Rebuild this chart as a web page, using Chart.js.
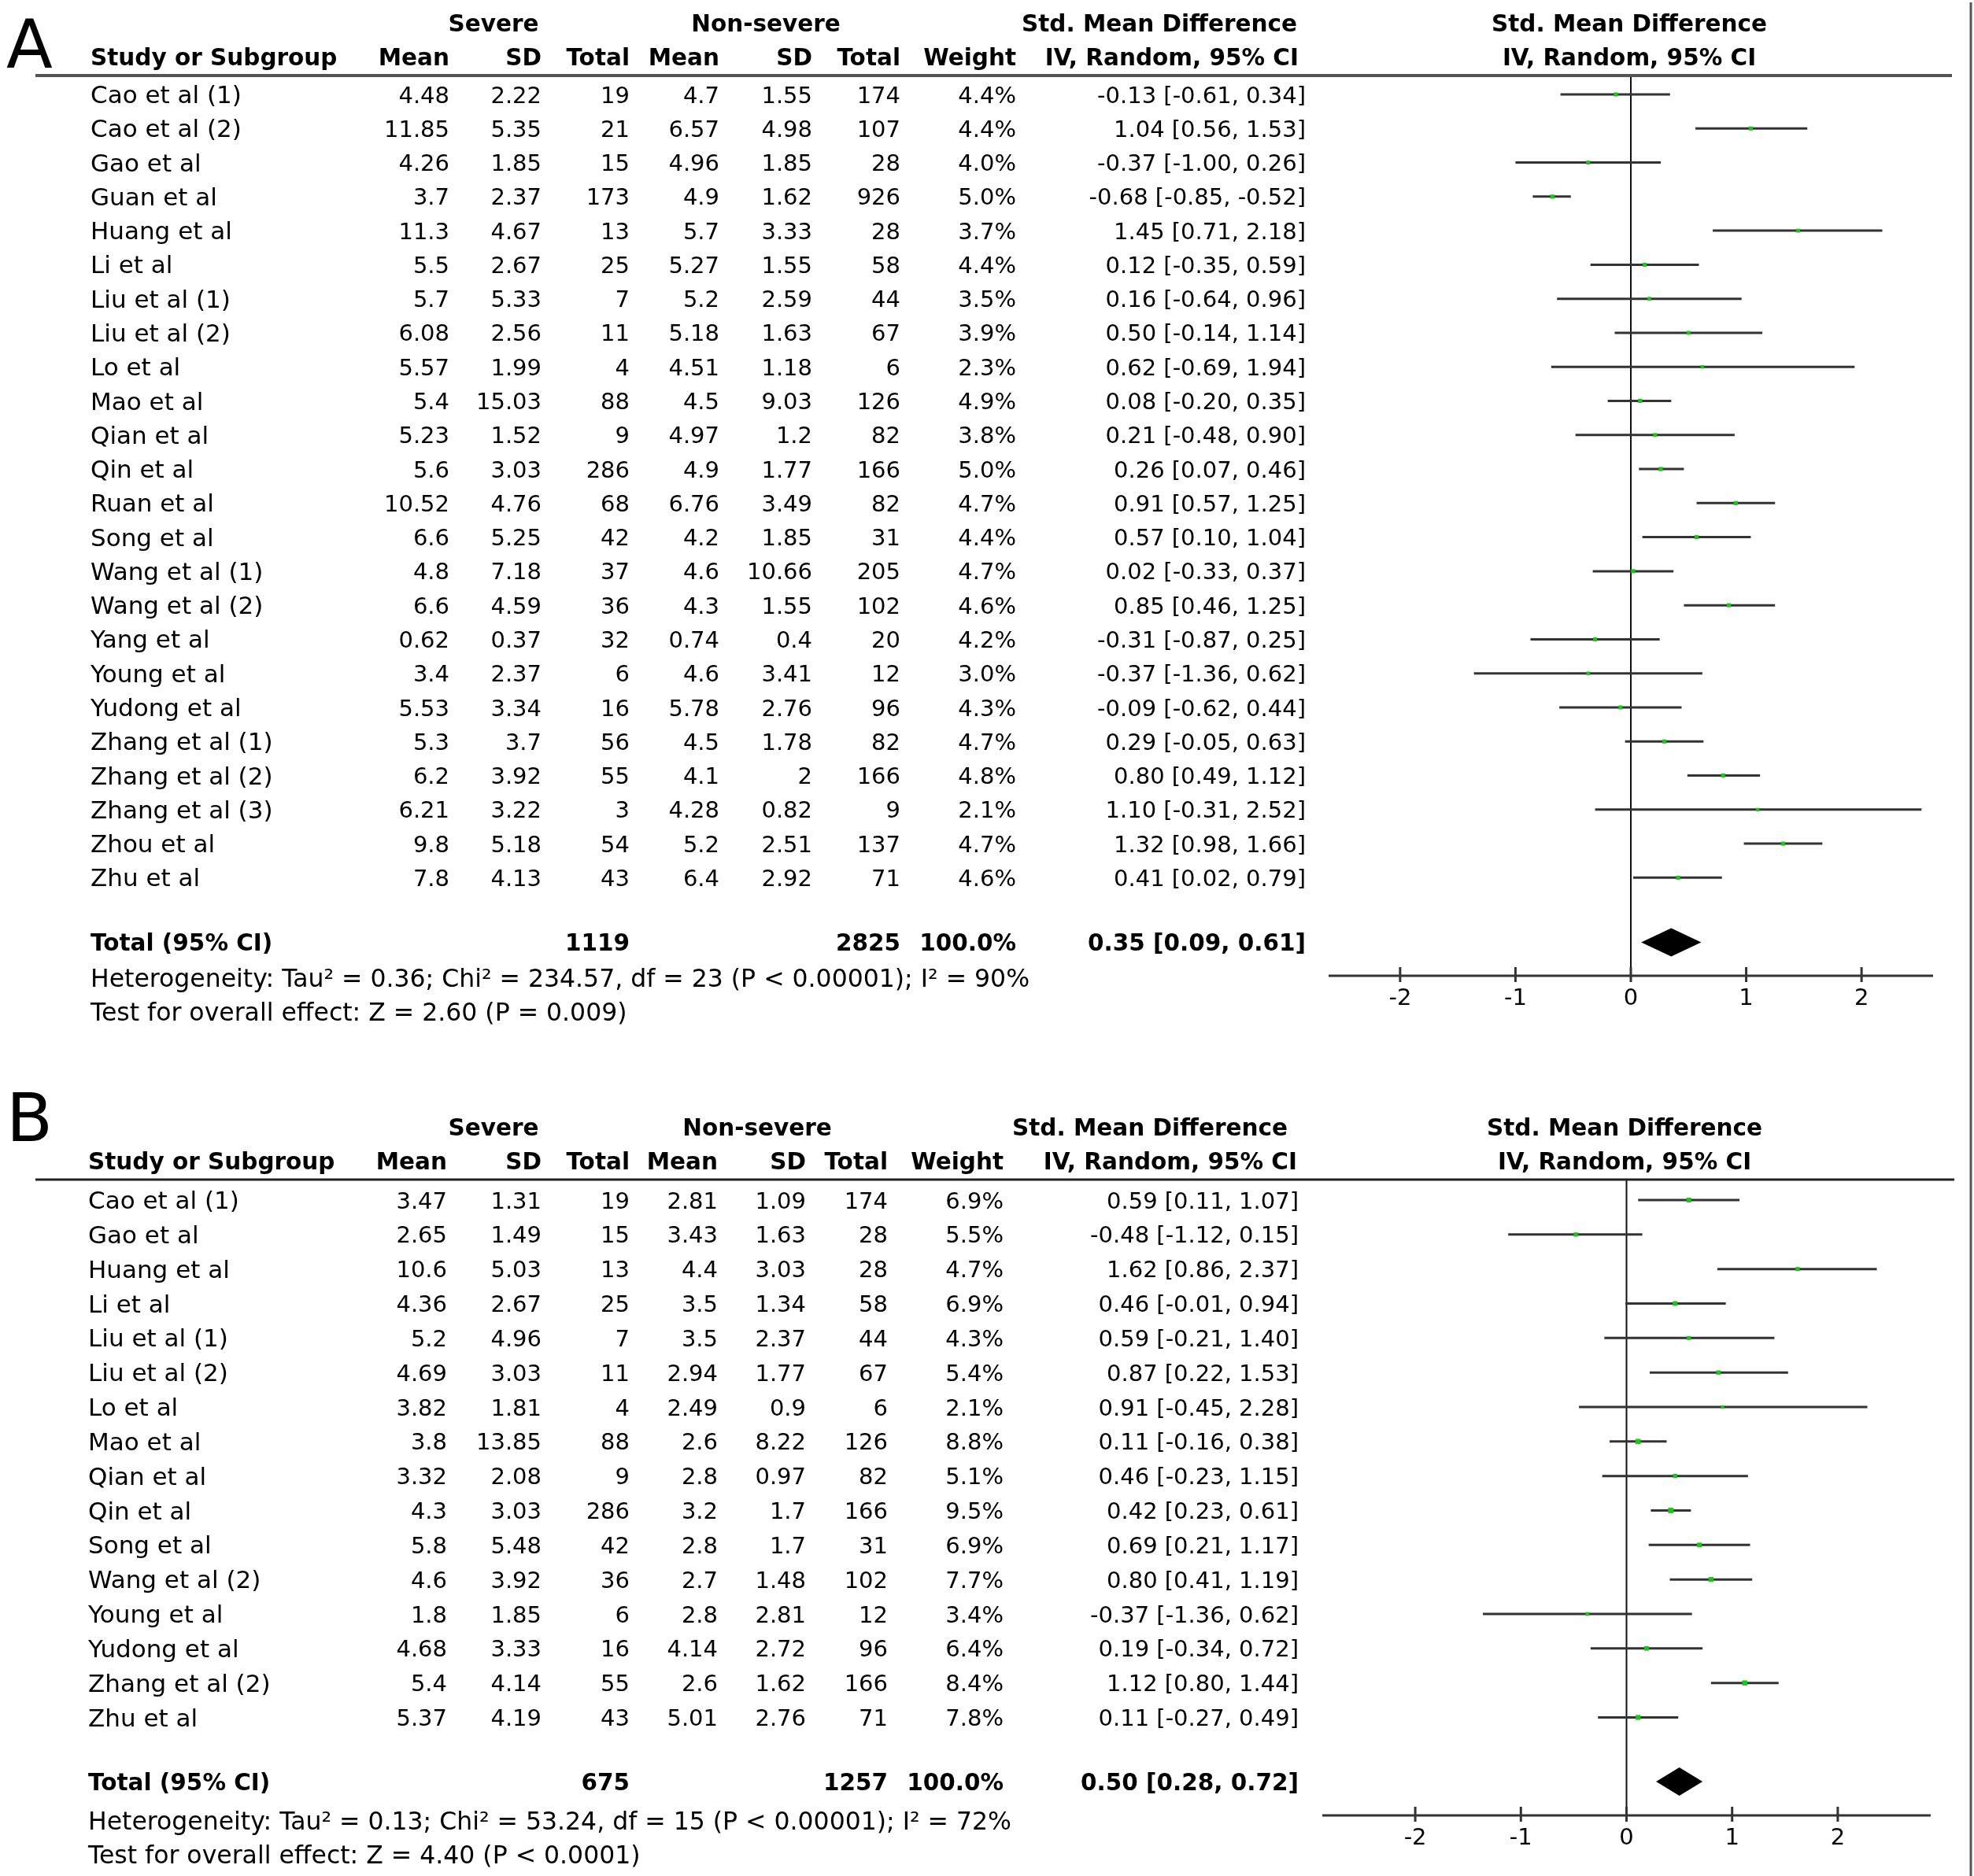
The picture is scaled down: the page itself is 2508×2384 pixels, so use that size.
<!DOCTYPE html>
<html>
<head>
<meta charset="utf-8">
<script src="https://cdn.jsdelivr.net/npm/chart.js@4.4.0/dist/chart.umd.min.js"></script>
<style>
  html, body { margin: 0; padding: 0; background: #fff; }
  canvas { position: absolute; left: 0; display: block; }
  #chartA { top: 0; }
  #chartB { top: 1340px; }
</style>
</head>
<body>
<canvas id="chartA" width="2508" height="1340"></canvas>
<canvas id="chartB" width="2508" height="1044"></canvas>
<script>
// ---- panel A data ----
const aStudy = ['Cao et al (1)', 'Cao et al (2)', 'Gao et al', 'Guan et al', 'Huang et al', 'Li et al',
  'Liu et al (1)', 'Liu et al (2)', 'Lo et al', 'Mao et al', 'Qian et al', 'Qin et al', 'Ruan et al',
  'Song et al', 'Wang et al (1)', 'Wang et al (2)', 'Yang et al', 'Young et al', 'Yudong et al',
  'Zhang et al (1)', 'Zhang et al (2)', 'Zhang et al (3)', 'Zhou et al', 'Zhu et al'];
const aSevMean = [4.48, 11.85, 4.26, 3.7, 11.3, 5.5, 5.7, 6.08, 5.57, 5.4, 5.23, 5.6, 10.52, 6.6, 4.8, 6.6, 0.62, 3.4, 5.53, 5.3, 6.2, 6.21, 9.8, 7.8];
const aSevSD = [2.22, 5.35, 1.85, 2.37, 4.67, 2.67, 5.33, 2.56, 1.99, 15.03, 1.52, 3.03, 4.76, 5.25, 7.18, 4.59, 0.37, 2.37, 3.34, 3.7, 3.92, 3.22, 5.18, 4.13];
const aSevN = [19, 21, 15, 173, 13, 25, 7, 11, 4, 88, 9, 286, 68, 42, 37, 36, 32, 6, 16, 56, 55, 3, 54, 43];
const aNonMean = [4.7, 6.57, 4.96, 4.9, 5.7, 5.27, 5.2, 5.18, 4.51, 4.5, 4.97, 4.9, 6.76, 4.2, 4.6, 4.3, 0.74, 4.6, 5.78, 4.5, 4.1, 4.28, 5.2, 6.4];
const aNonSD = [1.55, 4.98, 1.85, 1.62, 3.33, 1.55, 2.59, 1.63, 1.18, 9.03, 1.2, 1.77, 3.49, 1.85, 10.66, 1.55, 0.4, 3.41, 2.76, 1.78, 2, 0.82, 2.51, 2.92];
const aNonN = [174, 107, 28, 926, 28, 58, 44, 67, 6, 126, 82, 166, 82, 31, 205, 102, 20, 12, 96, 82, 166, 9, 137, 71];
const aWeight = [4.4, 4.4, 4.0, 5.0, 3.7, 4.4, 3.5, 3.9, 2.3, 4.9, 3.8, 5.0, 4.7, 4.4, 4.7, 4.6, 4.2, 3.0, 4.3, 4.7, 4.8, 2.1, 4.7, 4.6];
const aSmd = [-0.13, 1.04, -0.37, -0.68, 1.45, 0.12, 0.16, 0.50, 0.62, 0.08, 0.21, 0.26, 0.91, 0.57, 0.02, 0.85, -0.31, -0.37, -0.09, 0.29, 0.80, 1.10, 1.32, 0.41];
const aLow = [-0.61, 0.56, -1.00, -0.85, 0.71, -0.35, -0.64, -0.14, -0.69, -0.20, -0.48, 0.07, 0.57, 0.10, -0.33, 0.46, -0.87, -1.36, -0.62, -0.05, 0.49, -0.31, 0.98, 0.02];
const aHigh = [0.34, 1.53, 0.26, -0.52, 2.18, 0.59, 0.96, 1.14, 1.94, 0.35, 0.90, 0.46, 1.25, 1.04, 0.37, 1.25, 0.25, 0.62, 0.44, 0.63, 1.12, 2.52, 1.66, 0.79];
const aTotal = [1119, 2825, 100.0, 0.35, 0.09, 0.61]; // sevN, nonN, weight, smd, low, high
const aHet = 'Heterogeneity: Tau\u00b2 = 0.36; Chi\u00b2 = 234.57, df = 23 (P < 0.00001); I\u00b2 = 90%';
const aTest = 'Test for overall effect: Z = 2.60 (P = 0.009)';

// ---- panel B data ----
const bStudy = ['Cao et al (1)', 'Gao et al', 'Huang et al', 'Li et al', 'Liu et al (1)', 'Liu et al (2)',
  'Lo et al', 'Mao et al', 'Qian et al', 'Qin et al', 'Song et al', 'Wang et al (2)', 'Young et al',
  'Yudong et al', 'Zhang et al (2)', 'Zhu et al'];
const bSevMean = [3.47, 2.65, 10.6, 4.36, 5.2, 4.69, 3.82, 3.8, 3.32, 4.3, 5.8, 4.6, 1.8, 4.68, 5.4, 5.37];
const bSevSD = [1.31, 1.49, 5.03, 2.67, 4.96, 3.03, 1.81, 13.85, 2.08, 3.03, 5.48, 3.92, 1.85, 3.33, 4.14, 4.19];
const bSevN = [19, 15, 13, 25, 7, 11, 4, 88, 9, 286, 42, 36, 6, 16, 55, 43];
const bNonMean = [2.81, 3.43, 4.4, 3.5, 3.5, 2.94, 2.49, 2.6, 2.8, 3.2, 2.8, 2.7, 2.8, 4.14, 2.6, 5.01];
const bNonSD = [1.09, 1.63, 3.03, 1.34, 2.37, 1.77, 0.9, 8.22, 0.97, 1.7, 1.7, 1.48, 2.81, 2.72, 1.62, 2.76];
const bNonN = [174, 28, 28, 58, 44, 67, 6, 126, 82, 166, 31, 102, 12, 96, 166, 71];
const bWeight = [6.9, 5.5, 4.7, 6.9, 4.3, 5.4, 2.1, 8.8, 5.1, 9.5, 6.9, 7.7, 3.4, 6.4, 8.4, 7.8];
const bSmd = [0.59, -0.48, 1.62, 0.46, 0.59, 0.87, 0.91, 0.11, 0.46, 0.42, 0.69, 0.80, -0.37, 0.19, 1.12, 0.11];
const bLow = [0.11, -1.12, 0.86, -0.01, -0.21, 0.22, -0.45, -0.16, -0.23, 0.23, 0.21, 0.41, -1.36, -0.34, 0.80, -0.27];
const bHigh = [1.07, 0.15, 2.37, 0.94, 1.40, 1.53, 2.28, 0.38, 1.15, 0.61, 1.17, 1.19, 0.62, 0.72, 1.44, 0.49];
const bTotal = [675, 1257, 100.0, 0.50, 0.28, 0.72];
const bHet = 'Heterogeneity: Tau\u00b2 = 0.13; Chi\u00b2 = 53.24, df = 15 (P < 0.00001); I\u00b2 = 72%';
const bTest = 'Test for overall effect: Z = 4.40 (P < 0.0001)';

const axisTicks = [-2, -1, 0, 1, 2];

const FONT = '"DejaVu Sans", Verdana, sans-serif';
const numFont = '29px ' + FONT;
const nameFont = '31px ' + FONT;
const footFont = '31.5px ' + FONT;
const bold = 'bold 29.5px ' + FONT;
const TXT_DY = 3; // text sits a touch below the row line

function fmt2(v) { return v.toFixed(2); }
function ciText(s, l, h) { return fmt2(s) + ' [' + fmt2(l) + ', ' + fmt2(h) + ']'; }

function ciSegments(lo, hi) {
  const pts = [];
  lo.forEach((l, i) => {
    pts.push({ x: l, y: i }, { x: hi[i], y: i }, { x: null, y: null });
  });
  return pts;
}

// table text, axis, diamond etc. drawn with the chart's own scales
function forestPlugin(p, o) {
  return {
    id: 'forest',
    beforeDatasetsDraw(chart) {
      const ctx = chart.ctx, a = chart.chartArea;
      const x0 = chart.scales.x.getPixelForValue(0);
      ctx.save();
      ctx.strokeStyle = '#111';
      ctx.lineWidth = 2;
      ctx.beginPath();
      ctx.moveTo(x0, a.top);
      ctx.lineTo(x0, a.bottom);
      ctx.stroke();
      ctx.restore();
    },
    afterDraw(chart) {
      const ctx = chart.ctx, a = chart.chartArea;
      const xs = chart.scales.x, ys = chart.scales.y;
      const c = o.cols;
      const Y = v => ys.getPixelForValue(v) + TXT_DY;
      ctx.save();
      ctx.fillStyle = '#000';

      // panel letter
      ctx.font = '86px ' + FONT;
      ctx.textAlign = 'left';
      ctx.textBaseline = 'alphabetic';
      ctx.fillText(o.letter, 8, o.letterY);

      // header rule
      ctx.strokeStyle = o.ruleColor;
      ctx.lineWidth = o.ruleWidth;
      ctx.beginPath();
      ctx.moveTo(45, a.top);
      ctx.lineTo(o.ruleEnd, a.top);
      ctx.stroke();

      // right border
      ctx.strokeStyle = '#555';
      ctx.lineWidth = 3;
      ctx.beginPath();
      ctx.moveTo(2504, o.borderTop);
      ctx.lineTo(2504, chart.height);
      ctx.stroke();

      // x axis
      ctx.strokeStyle = '#333';
      ctx.lineWidth = 3;
      ctx.beginPath();
      ctx.moveTo(a.left, a.bottom);
      ctx.lineTo(a.right, a.bottom);
      axisTicks.forEach(t => {
        const px = xs.getPixelForValue(t);
        ctx.moveTo(px, a.bottom - 11);
        ctx.lineTo(px, a.bottom + 8);
      });
      ctx.stroke();
      ctx.font = numFont;
      ctx.textAlign = 'center';
      ctx.textBaseline = 'middle';
      axisTicks.forEach(t => {
        ctx.fillText(t < 0 ? '-' + Math.abs(t) : String(t), xs.getPixelForValue(t), a.bottom + 29);
      });

      // diamond
      const dy = ys.getPixelForValue(o.totalRow);
      ctx.fillStyle = '#000';
      ctx.beginPath();
      ctx.moveTo(xs.getPixelForValue(p.total[4]), dy);
      ctx.lineTo(xs.getPixelForValue(p.total[3]), dy - 18);
      ctx.lineTo(xs.getPixelForValue(p.total[5]), dy);
      ctx.lineTo(xs.getPixelForValue(p.total[3]), dy + 18);
      ctx.closePath();
      ctx.fill();

      const put = (txt, x, y, align, font) => {
        ctx.font = font;
        ctx.textAlign = align;
        ctx.fillText(txt, x, y);
      };

      ctx.textBaseline = 'middle';
      // headers
      const h1 = Y(o.head1), h2 = Y(o.head2);
      put('Severe', c.sevHead, h1, 'center', bold);
      put('Non-severe', c.nonHead, h1, 'center', bold);
      put('Std. Mean Difference', c.ciHead1, h1, 'right', bold);
      put('Std. Mean Difference', c.plotHead, h1, 'center', bold);
      put('Study or Subgroup', c.name, h2, 'left', bold);
      put('Mean', c.sevMean, h2, 'right', bold);
      put('SD', c.sevSD, h2, 'right', bold);
      put('Total', c.sevN, h2, 'right', bold);
      put('Mean', c.nonMean, h2, 'right', bold);
      put('SD', c.nonSD, h2, 'right', bold);
      put('Total', c.nonN, h2, 'right', bold);
      put('Weight', c.weight, h2, 'right', bold);
      put('IV, Random, 95% CI', c.ciHead2, h2, 'right', bold);
      put('IV, Random, 95% CI', c.plotHead, h2, 'center', bold);

      // study rows
      p.study.forEach((s, i) => {
        const y = Y(i);
        put(s, c.name, y, 'left', nameFont);
        put(String(p.sevMean[i]), c.sevMean, y, 'right', numFont);
        put(String(p.sevSD[i]), c.sevSD, y, 'right', numFont);
        put(String(p.sevN[i]), c.sevN, y, 'right', numFont);
        put(String(p.nonMean[i]), c.nonMean, y, 'right', numFont);
        put(String(p.nonSD[i]), c.nonSD, y, 'right', numFont);
        put(String(p.nonN[i]), c.nonN, y, 'right', numFont);
        put(p.weight[i].toFixed(1) + '%', c.weight, y, 'right', numFont);
        put(ciText(p.smd[i], p.low[i], p.high[i]), c.ci, y, 'right', numFont);
      });

      // total and footer
      const t = p.total, ty = Y(o.totalRow);
      put('Total (95% CI)', c.name, ty, 'left', bold);
      put(String(t[0]), c.sevN, ty, 'right', bold);
      put(String(t[1]), c.nonN, ty, 'right', bold);
      put(t[2].toFixed(1) + '%', c.weight, ty, 'right', bold);
      put(ciText(t[3], t[4], t[5]), c.ci, ty, 'right', bold);
      put(p.het, c.name, Y(o.hetRow), 'left', footFont);
      put(p.test, c.name, Y(o.testRow), 'left', footFont);
      ctx.restore();
    }
  };
}

function makeForest(id, p, o) {
  return new Chart(document.getElementById(id), {
    type: 'scatter',
    data: {
      datasets: [
        {
          data: p.smd.map((v, i) => ({ x: v, y: i })),
          pointStyle: 'rect',
          pointRadius: p.weight.map(w => 2.5 + w * 0.25),
          backgroundColor: '#1fc41f',
          borderWidth: 0
        },
        {
          data: ciSegments(p.low, p.high),
          showLine: true,
          spanGaps: false,
          borderColor: '#333',
          borderWidth: 3,
          pointRadius: 0
        }
      ]
    },
    options: {
      responsive: false,
      animation: false,
      devicePixelRatio: 1,
      layout: { padding: o.padding },
      scales: {
        x: { type: 'linear', min: o.xMin, max: o.xMax, display: false },
        y: { type: 'linear', min: o.yMin, max: o.yMax, reverse: true, display: false }
      },
      plugins: {
        legend: { display: false },
        tooltip: { enabled: false }
      }
    },
    plugins: [forestPlugin(p, o)]
  });
}

makeForest('chartA', {
  study: aStudy, sevMean: aSevMean, sevSD: aSevSD, sevN: aSevN, nonMean: aNonMean, nonSD: aNonSD,
  nonN: aNonN, weight: aWeight, smd: aSmd, low: aLow, high: aHigh, total: aTotal, het: aHet, test: aTest
}, {
  padding: { left: 1688, right: 52, top: 96, bottom: 100 },
  xMin: -2.62, xMax: 2.62, yMin: -0.555, yMax: 25.88,
  letter: 'A', letterY: 86, ruleColor: '#555', ruleWidth: 4, ruleEnd: 2480, borderTop: 3,
  head1: -2.10, head2: -1.11, totalRow: 24.9, hetRow: 25.95, testRow: 26.95,
  cols: { name: 115, sevMean: 571, sevSD: 688, sevN: 800, nonMean: 914, nonSD: 1032, nonN: 1144,
    weight: 1291, ci: 1659, ciHead1: 1648, ciHead2: 1650, sevHead: 627, nonHead: 973, plotHead: 2070 }
});

makeForest('chartB', {
  study: bStudy, sevMean: bSevMean, sevSD: bSevSD, sevN: bSevN, nonMean: bNonMean, nonSD: bNonSD,
  nonN: bNonN, weight: bWeight, smd: bSmd, low: bLow, high: bHigh, total: bTotal, het: bHet, test: bTest
}, {
  padding: { left: 1680, right: 55, top: 159, bottom: 77 },
  xMin: -2.88, xMax: 2.88, yMin: -0.593, yMax: 17.84,
  letter: 'B', letterY: 110, ruleColor: '#222', ruleWidth: 3, ruleEnd: 2483, borderTop: 0,
  head1: -2.12, head2: -1.14, totalRow: 16.86, hetRow: 18.0, testRow: 18.98,
  cols: { name: 112, sevMean: 568, sevSD: 688, sevN: 800, nonMean: 912, nonSD: 1024, nonN: 1128,
    weight: 1275, ci: 1650, ciHead1: 1636, ciHead2: 1648, sevHead: 627, nonHead: 962, plotHead: 2064 }
});
</script>
</body>
</html>
